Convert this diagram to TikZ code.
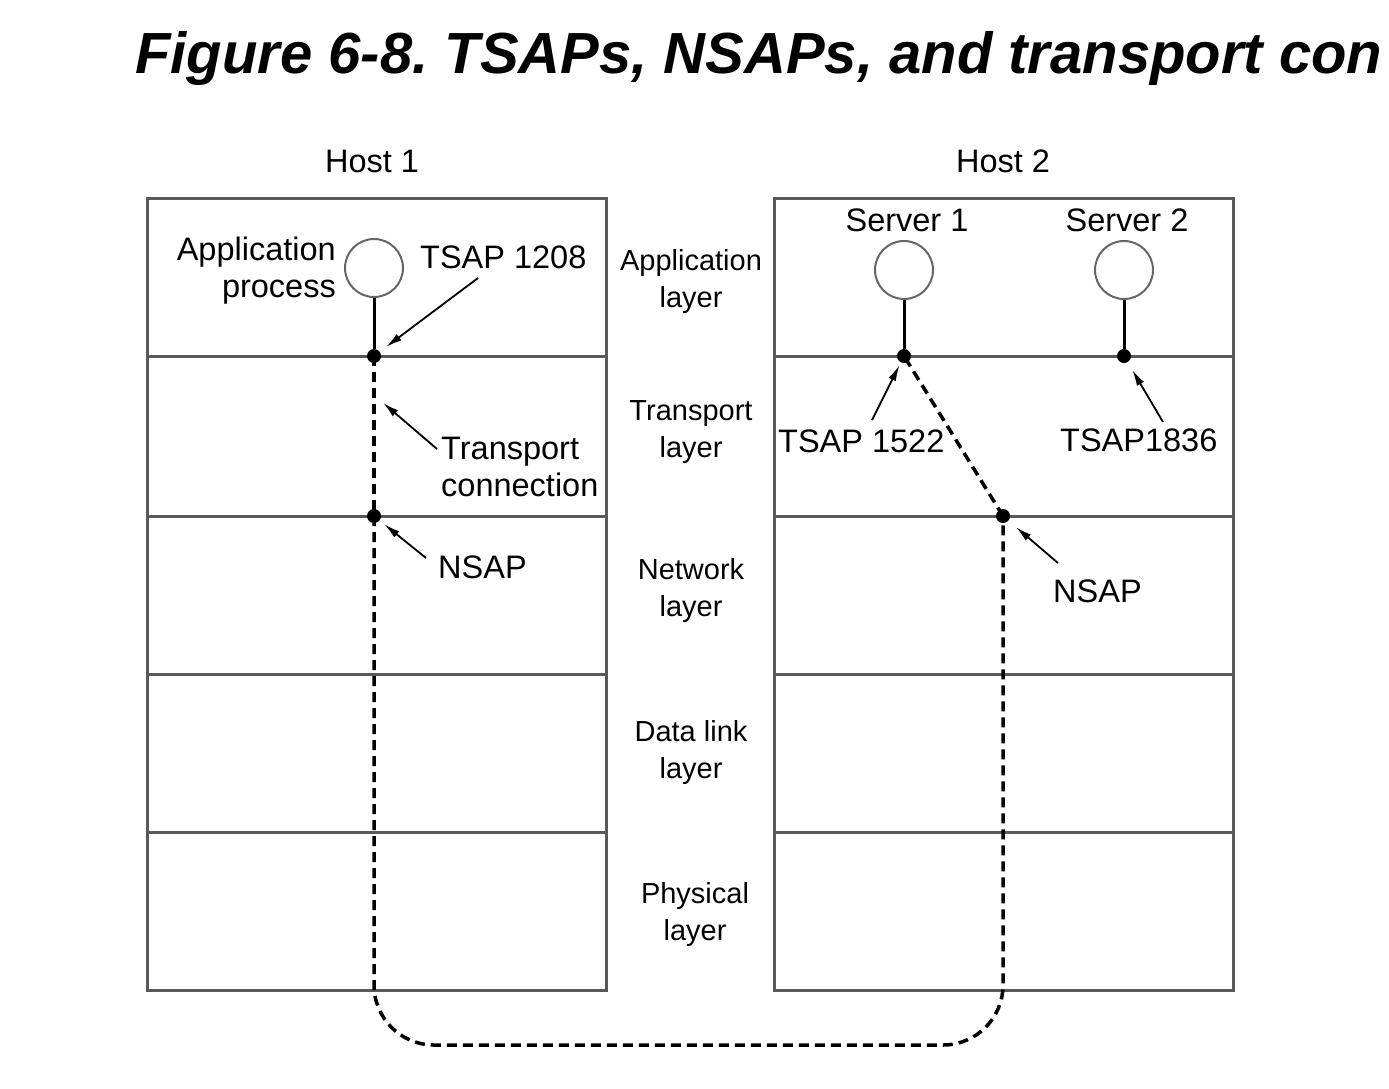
\documentclass[tikz,border=0pt]{standalone}
\usepackage{fontspec}
\setmainfont{Liberation Sans}
\usetikzlibrary{arrows.meta}
\frenchspacing
\begin{document}
\begin{tikzpicture}[x=1pt,y=-1pt,
  frame/.style={draw=black!65, line width=3pt},
  lbl/.style={inner sep=0pt, font=\fontsize{32.5}{37}\selectfont},
  lay/.style={inner sep=0pt, align=center, font=\fontsize{29}{37}\selectfont},
  proc/.style={circle, draw=black!60, line width=2pt, minimum size=58pt, inner sep=0pt},
  sap/.style={circle, fill=black, inner sep=0pt, minimum size=14pt},
  stem/.style={line width=3pt},
  conn/.style={line width=3.5pt, dash pattern=on 10pt off 6pt},
  ptr/.style={line width=1.8pt, -{Latex[length=16pt,width=8pt]}}]
\useasboundingbox (0,0) rectangle (1389,1088);
\fill[white] (0,0) rectangle (1389,1088);

% title
\node[anchor=base west, inner sep=0pt, font=\fontsize{58}{60}\selectfont\bfseries\itshape] (title) at (135,73) {Figure 6-8. TSAPs, NSAPs, and transport con};

% host frames and layer dividers
\draw[frame] (147,198) rectangle (606,990);
\draw[frame] (774,198) rectangle (1233,990);
\foreach \y in {356,516,674,832} {
  \draw[frame] (147,\y) -- (606,\y);
  \draw[frame] (774,\y) -- (1233,\y);
}

% processes
\node[proc] (ap) at (374,268) {};
\node[proc] (s1) at (904,270) {};
\node[proc] (s2) at (1124,270) {};

% access points
\node[sap] (t1208) at (374,356) {};
\node[sap] (n1) at (374,516) {};
\node[sap] (t1522) at (904,356) {};
\node[sap] (t1836) at (1124,356) {};
\node[sap] (n2) at (1003,516) {};

\draw[stem] (ap) -- (t1208);
\draw[stem] (s1) -- (t1522);
\draw[stem] (s2) -- (t1836);

% transport connection
\coordinate (bl) at (374,1045);
\coordinate (br) at (1003,1045);
\draw[conn] (t1208.center) -- (n1.center);
\draw[conn, rounded corners=60pt] (n1.center) -- (bl) -- (br) -- (n2.center);
\draw[conn] (n2.center) -- (t1522.center);

% labels
\node[lbl, anchor=base] (host1) at (372,172) {Host 1};
\node[lbl, anchor=base] (host2) at (1003,172) {Host 2};
\node[lbl, anchor=base] (srv1) at (907,231) {Server 1};
\node[lbl, anchor=base] (srv2) at (1127,231) {Server 2};
\node[lbl, align=right, anchor=east] (appproc) at (336,271) {Application\\process};
\node[lbl, anchor=base west] (lt1208) at (420,268) {TSAP 1208};
\node[lbl, align=left, anchor=west] (ltc) at (441,467) {Transport\\connection};
\node[lbl, anchor=base west] (ln1) at (438,578) {NSAP};
\node[lbl, anchor=base west] (lt1522) at (778,452) {TSAP 1522};
\node[lbl, anchor=base west] (lt1836) at (1060,451) {TSAP1836};
\node[lbl, anchor=base west] (ln2) at (1053,602) {NSAP};

\node[lay] (lapp) at (691,281) {Application\\layer};
\node[lay] (ltr) at (691,432) {Transport\\layer};
\node[lay] (lnet) at (691,590) {Network\\layer};
\node[lay] (ldl) at (691,752) {Data link\\layer};
\node[lay] (lph) at (695,914) {Physical\\layer};

% pointer arrows
\coordinate (a1) at (478,278);
\coordinate (a2) at (437,449);
\coordinate (tc) at (374,395);
\coordinate (a3) at (426,558);
\coordinate (a4) at (872,420);
\coordinate (a5) at (1163,422);
\coordinate (a6) at (1058,563);
\draw[ptr, shorten >=8pt] (a1) -- (t1208);
\draw[ptr, shorten >=12pt] (a2) -- (tc);
\draw[ptr, shorten >=6pt] (a3) -- (n1);
\draw[ptr, shorten >=3pt] (a4) -- (t1522);
\draw[ptr, shorten >=9pt] (a5) -- (t1836);
\draw[ptr, shorten >=10pt] (a6) -- (n2);
\end{tikzpicture}
\end{document}
